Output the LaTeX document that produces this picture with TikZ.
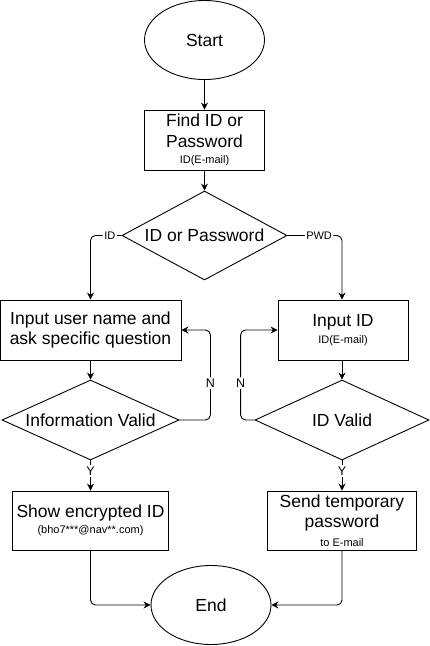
\documentclass[tikz,border=0pt]{standalone}
\usepackage{fontspec}
\setmainfont{Liberation Sans}
\usetikzlibrary{shapes.geometric,arrows.meta}

\newcommand{\tinyline}[1]{{\fontsize{11}{12}\selectfont #1}}

\begin{document}
\begin{tikzpicture}[x=1pt, y=1pt, line width=0.9pt,
	>={Stealth[length=7pt,width=7pt]},
	bigtext/.style={font=\fontsize{17.5}{20.5}\selectfont},
	box/.style={draw, rectangle, align=center, inner sep=0pt, minimum height=60pt, bigtext},
	term/.style={draw, ellipse, inner sep=0pt, minimum width=120pt, minimum height=79pt, bigtext},
	decide/.style={draw, diamond, inner sep=0pt, minimum height=80pt, bigtext},
	flow/.style={->, rounded corners=5pt},
	lbl/.style={fill=white, inner sep=1.5pt, font=\fontsize{11}{12}\selectfont},
	yn/.style={fill=white, inner sep=1.5pt, font=\fontsize{12.5}{14}\selectfont}]

	\useasboundingbox (0, 0) rectangle (429, -646);

	% top
	\node [term] (start) at (204.5, -40) {Start};
	\node [box, minimum width=120pt] (find) at (204.5, -140) {Find ID or\\Password\\[-4pt]\tinyline{ID(E-mail)}};
	\node [decide, aspect=1.85, minimum width=165pt, minimum height=89pt] (pwdq) at (204.5, -235.5) {ID or Password};

	% left branch
	\node [box, minimum width=181pt] (inputuser) at (90.5, -330) {Input user name and\\ask specific question};
	\node [decide, aspect=2.21, minimum width=177pt] (infoq) at (90.5, -420) {Information Valid};
	\node [box, minimum width=156pt, minimum height=59pt] (show) at (90.5, -520.5) {Show encrypted ID\\[-5pt]\tinyline{(bho7***@nav**.com)}};

	% right branch
	\node [box, minimum width=130pt] (inputid) at (343, -330) {Input ID\\[-3pt]\tinyline{ID(E-mail)}};
	\node [decide, aspect=2.17, minimum width=174pt] (idq) at (342, -420) {ID Valid};
	\node [box, minimum width=149pt, minimum height=59pt] (send) at (342, -520.5) {Send temporary\\password\\[-2pt]\tinyline{to E-mail}};

	\node [term] (end) at (211, -605) {End};

	\draw [->] (start) -- (find);
	\draw [->] (find) -- (pwdq);

	\draw [flow] (pwdq.west) -| node [lbl, pos=0.19] (lid) {ID} (inputuser.north);
	\draw [flow] (pwdq.east) -| node [lbl, pos=0.29] (lpwd) {PWD} (idq.north |- inputid.north);

	\draw [->] (inputuser) -- (infoq);
	\draw [->] (idq.north |- inputid.south) -- (idq.north);

	%\draw [flow] (infoq.east) -| (inputuser.east);
	\draw [flow] (infoq.east) -- ++(31, 0) |- node [yn, pos=0.205] (nleft) {N} (inputuser.east);
	\draw [flow] (idq.west) -- ++(-14, 0) |- node [yn, pos=0.205] (nright) {N} (inputid.west);

	\draw [->] (infoq.south) -- node [yn, pos=0.35] (yleft) {Y} (show.north);
	\draw [->] (idq.south) -- node [yn, pos=0.35] (yright) {Y} (send.north);

	\draw [flow] (show.south) |- (end.west);
	\draw [flow] (send.south) |- (end.east);

\end{tikzpicture}
\end{document}
